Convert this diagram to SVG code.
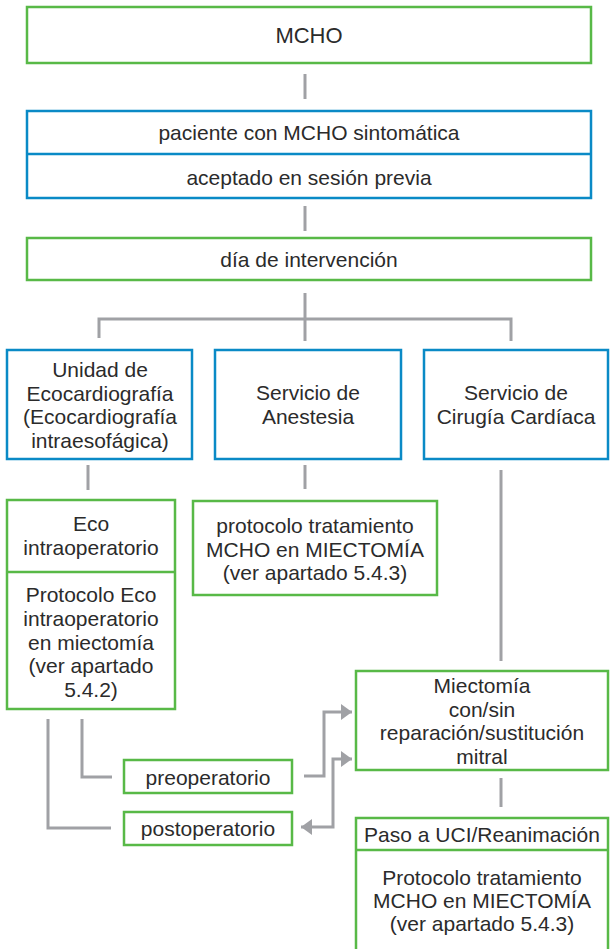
<svg xmlns="http://www.w3.org/2000/svg" width="610" height="949" viewBox="0 0 610 949">
<style>
  .g { fill: #ffffff; stroke: #58b947; stroke-width: 2.5; }
  .b { fill: #ffffff; stroke: #0a8ac6; stroke-width: 2.5; }
  .gl { stroke: #58b947; stroke-width: 2.5; fill: none; }
  .bl { stroke: #0a8ac6; stroke-width: 2.5; fill: none; }
  .c { stroke: #a0a1a5; stroke-width: 3; fill: none; }
  text { font-family: "Liberation Sans", Arial, sans-serif; font-size: 21px; fill: #2b2b2b; text-anchor: middle; }
</style>
<defs>
  <marker id="ah" markerUnits="userSpaceOnUse" viewBox="0 0 11 16" markerWidth="11" markerHeight="16" refX="11" refY="8" orient="auto-start-reverse">
    <path d="M0,0 L11,8 L0,16 z" fill="#a0a1a5"/>
  </marker>
</defs>

<g id="connectors">
  <path class="c" d="M305,74 V99"/>
  <path class="c" d="M305,206 V231"/>
  <path class="c" d="M305,293 V341"/>
  <path class="c" d="M99,338 V319 H511 V341"/>
  <path class="c" d="M88,465 V490"/>
  <path class="c" d="M305,465 V489"/>
  <path class="c" d="M501,470 V661"/>
  <path class="c" d="M501,778 V807"/>
  <path class="c" d="M82,719 V777 H112"/>
  <path class="c" d="M48,719 V828 H111"/>
  <path class="c" d="M304,776 H324 V712 H352" marker-end="url(#ah)"/>
  <path class="c" d="M301,827 H333 V759 H352" marker-start="url(#ah)" marker-end="url(#ah)"/>
</g>

<g id="mcho">
  <rect class="g" x="27" y="7" width="564" height="56"/>
  <text x="309" y="43" style="font-size:22px">MCHO</text>
</g>

<g id="paciente">
  <rect class="b" x="27" y="111" width="564" height="87"/>
  <line class="bl" x1="27" y1="154" x2="591" y2="154"/>
  <text x="309" y="140">paciente con MCHO sintomática</text>
  <text x="309" y="184.5">aceptado en sesión previa</text>
</g>

<g id="dia">
  <rect class="g" x="27" y="238" width="564" height="42"/>
  <text x="309" y="267">día de intervención</text>
</g>

<g id="unidad-eco">
  <rect class="b" x="7" y="350" width="185" height="109"/>
  <text x="100" y="377">Unidad de</text>
  <text x="100" y="400.5">Ecocardiografía</text>
  <text x="100" y="424">(Ecocardiografía</text>
  <text x="100" y="447.5">intraesofágica)</text>
</g>

<g id="anestesia">
  <rect class="b" x="215" y="350" width="186" height="109"/>
  <text x="308" y="400">Servicio de</text>
  <text x="308" y="423.5">Anestesia</text>
</g>

<g id="cirugia">
  <rect class="b" x="424" y="350" width="184" height="109"/>
  <text x="516" y="400">Servicio de</text>
  <text x="516" y="423.5">Cirugía Cardíaca</text>
</g>

<g id="eco-intraop">
  <rect class="g" x="7" y="500" width="168" height="209"/>
  <line class="gl" x1="7" y1="572" x2="175" y2="572"/>
  <text x="91" y="531">Eco</text>
  <text x="91" y="554.5">intraoperatorio</text>
  <text x="91" y="602">Protocolo Eco</text>
  <text x="91" y="626">intraoperatorio</text>
  <text x="91" y="649.5">en miectomía</text>
  <text x="91" y="673">(ver apartado</text>
  <text x="91" y="697">5.4.2)</text>
</g>

<g id="protocolo-anestesia">
  <rect class="g" x="193" y="501" width="244" height="94"/>
  <text x="315" y="533">protocolo tratamiento</text>
  <text x="315" y="557">MCHO en MIECTOMÍA</text>
  <text x="315" y="580">(ver apartado 5.4.3)</text>
</g>

<g id="miectomia">
  <rect class="g" x="356" y="671" width="252" height="99"/>
  <text x="482" y="693">Miectomía</text>
  <text x="482" y="717">con/sin</text>
  <text x="482" y="740">reparación/sustitución</text>
  <text x="482" y="764">mitral</text>
</g>

<g id="uci">
  <rect class="g" x="356" y="818" width="252" height="150"/>
  <line class="gl" x1="356" y1="850" x2="608" y2="850"/>
  <text x="482" y="842">Paso a UCI/Reanimación</text>
  <text x="482" y="885">Protocolo tratamiento</text>
  <text x="482" y="908">MCHO en MIECTOMÍA</text>
  <text x="482" y="931">(ver apartado 5.4.3)</text>
</g>

<g id="preoperatorio">
  <rect class="g" x="124" y="760" width="168" height="33"/>
  <text x="208" y="785">preoperatorio</text>
</g>

<g id="postoperatorio">
  <rect class="g" x="124" y="812" width="168" height="33"/>
  <text x="208" y="836">postoperatorio</text>
</g>
</svg>
